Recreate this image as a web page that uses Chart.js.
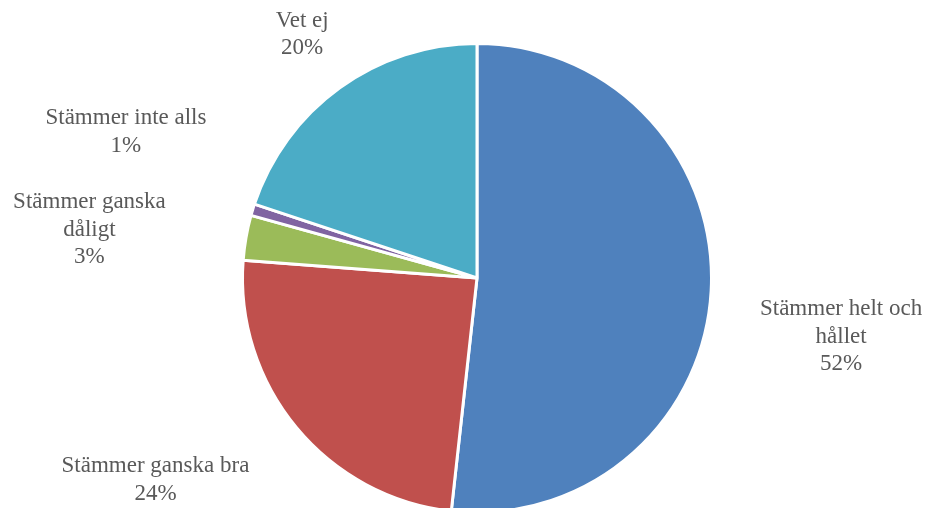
<!DOCTYPE html>
<html>
<head>
<meta charset="utf-8">
<script src="https://cdn.jsdelivr.net/npm/chart.js@4/dist/chart.umd.min.js"></script>
<style>
  html, body { margin: 0; padding: 0; background: #ffffff; overflow: hidden; }
  #wrap { position: absolute; left: 0; top: 0; width: 930px; height: 556px; }
</style>
</head>
<body>
<div id="wrap"><canvas id="c" width="930" height="556"></canvas></div>
<script>
// Categories (line-broken as shown in the chart)
const categories = [
  ['Stämmer helt och', 'hållet'],
  ['Stämmer ganska bra'],
  ['Stämmer ganska', 'dåligt'],
  ['Stämmer inte alls'],
  ['Vet ej']
];
// Shares in percent
const shares = [51.75, 24.45, 3.1, 0.8, 19.9];
const sliceColors = ['#4F81BD', '#C0504D', '#9BBB59', '#8064A2', '#4BACC6'];

// Label placement nudges relative to a point just outside each slice
const labelNudge = [[100, 44], [-118, 33], [-127, -3], [-98, -69], [-20, -29]];

const labelPlugin = {
  id: 'outsideLabels',
  afterDatasetsDraw(chart) {
    const ctx = chart.ctx;
    const meta = chart.getDatasetMeta(0);
    ctx.save();
    ctx.font = '23px "Liberation Serif", "DejaVu Serif", serif';
    ctx.fillStyle = '#595959';
    ctx.textAlign = 'center';
    ctx.textBaseline = 'middle';
    const lh = 27.5;
    meta.data.forEach((arc, i) => {
      const p = arc.getProps(['x', 'y', 'startAngle', 'endAngle', 'outerRadius'], true);
      const mid = (p.startAngle + p.endAngle) / 2;
      const r = p.outerRadius + 30;
      const cx = p.x + Math.cos(mid) * r + labelNudge[i][0];
      const cy = p.y + Math.sin(mid) * r + labelNudge[i][1];
      const lines = categories[i].concat([Math.round(shares[i]) + '%']);
      const top = cy - (lines.length - 1) * lh / 2;
      lines.forEach((t, k) => ctx.fillText(t, cx, top + k * lh));
    });
    ctx.restore();
  }
};

new Chart(document.getElementById('c'), {
  type: 'pie',
  data: {
    labels: categories,
    datasets: [{
      data: shares,
      backgroundColor: sliceColors,
      borderColor: '#ffffff',
      borderWidth: 3
    }]
  },
  options: {
    responsive: false,
    animation: false,
    layout: { padding: { left: 241, right: 217, top: 42, bottom: 42 } },
    plugins: {
      legend: { display: false },
      tooltip: { enabled: false }
    }
  },
  plugins: [labelPlugin]
});
</script>
</body>
</html>
